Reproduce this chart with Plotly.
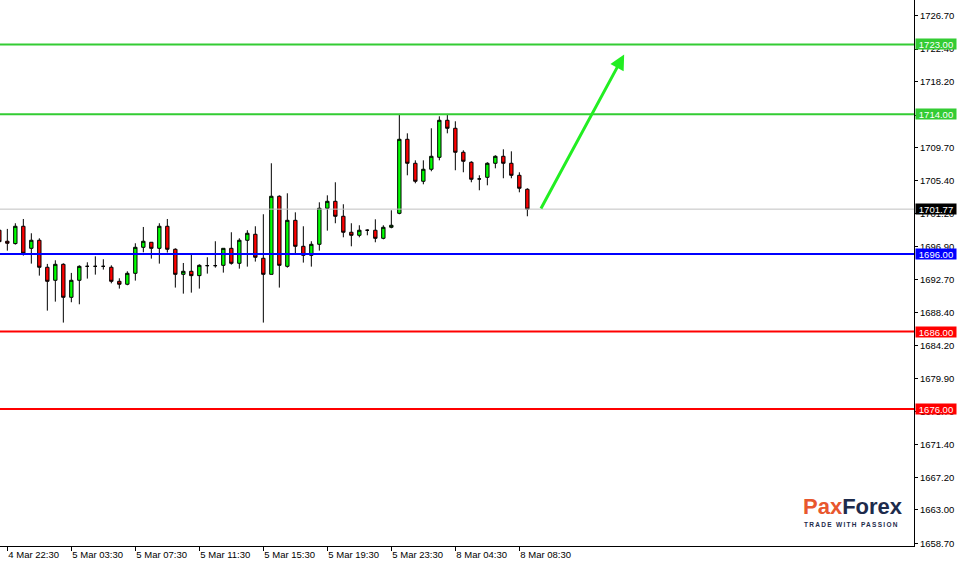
import plotly.graph_objects as go

# ---- data (XAU/USD-style 30-min candles) ----
open_ = [1699.05, 1697.63, 1697.33, 1699.56, 1696.72, 1697.76, 1694.28, 1692.60, 1694.66, 1690.41,
         1692.60, 1694.40, 1694.40, 1694.40, 1694.28, 1692.47, 1692.09, 1693.50, 1696.85, 1697.50,
         1696.72, 1699.56, 1696.60, 1693.37, 1693.76, 1693.20, 1694.49, 1694.49, 1694.53, 1696.72,
         1694.79, 1697.76, 1698.53, 1695.44, 1693.37, 1703.43, 1694.40, 1700.33, 1696.98, 1695.82,
         1697.24, 1701.88, 1702.78, 1700.85, 1698.79, 1698.40, 1699.05, 1699.05, 1698.01, 1699.43,
         1701.23, 1710.77, 1707.68, 1705.36, 1706.91, 1708.45, 1713.22, 1712.19, 1709.10, 1707.81,
         1705.66, 1705.87, 1707.68, 1708.58, 1707.68, 1706.13, 1704.33]
high = [1699.40, 1699.22, 1699.95, 1700.50, 1698.66, 1698.01, 1694.71, 1695.18, 1694.79, 1693.55,
        1694.53, 1694.92, 1695.69, 1695.31, 1694.53, 1692.86, 1693.76, 1697.37, 1699.47, 1697.50,
        1699.95, 1700.50, 1696.72, 1694.83, 1695.99, 1694.66, 1695.57, 1697.63, 1696.72, 1698.79,
        1698.01, 1699.05, 1699.56, 1701.11, 1707.68, 1703.55, 1703.81, 1701.36, 1699.56, 1697.63,
        1702.65, 1703.55, 1705.23, 1702.40, 1699.95, 1699.69, 1699.17, 1700.46, 1699.69, 1701.62,
        1714.04, 1711.54, 1708.06, 1708.06, 1712.19, 1713.73, 1714.04, 1713.09, 1709.35, 1707.94,
        1706.13, 1707.81, 1708.71, 1709.48, 1709.22, 1706.52, 1704.46]
low = [1697.20, 1696.42, 1697.20, 1695.78, 1694.75, 1693.20, 1688.69, 1689.85, 1687.15, 1689.77,
       1689.51, 1692.82, 1693.33, 1693.98, 1692.21, 1691.53, 1691.96, 1692.56, 1696.21, 1695.39,
       1694.75, 1696.17, 1691.66, 1690.88, 1691.01, 1691.53, 1693.46, 1694.23, 1693.59, 1694.62,
       1694.10, 1694.36, 1695.01, 1687.15, 1693.37, 1691.66, 1694.23, 1695.95, 1694.88, 1694.36,
       1696.42, 1699.00, 1699.95, 1698.14, 1696.98, 1698.14, 1698.40, 1697.50, 1697.88, 1699.30,
       1701.11, 1706.13, 1705.10, 1704.97, 1706.65, 1708.06, 1711.54, 1706.78, 1706.52, 1705.23,
       1704.20, 1704.84, 1707.03, 1705.75, 1705.75, 1703.94, 1700.85]
close = [1697.58, 1697.37, 1699.56, 1696.08, 1697.76, 1694.28, 1692.47, 1694.66, 1690.41, 1692.60,
         1694.40, 1694.40, 1694.40, 1694.40, 1692.47, 1692.09, 1693.50, 1696.85, 1697.63, 1696.72,
         1699.56, 1696.60, 1693.37, 1693.76, 1693.20, 1694.53, 1694.49, 1694.49, 1696.72, 1694.79,
         1697.76, 1698.66, 1695.57, 1693.37, 1703.43, 1694.53, 1700.33, 1696.98, 1695.82, 1697.24,
         1701.88, 1702.78, 1700.85, 1698.79, 1698.40, 1699.05, 1699.05, 1698.01, 1699.43, 1699.69,
         1710.77, 1707.68, 1705.36, 1706.91, 1708.58, 1713.22, 1712.19, 1709.10, 1707.94, 1705.62,
         1705.66, 1707.68, 1708.58, 1707.68, 1706.13, 1704.46, 1701.77]

x_tick_index = [1, 9, 17, 25, 33, 41, 49, 57, 65]
x_tick_labels = ["4 Mar 22:30", "5 Mar 03:30", "5 Mar 07:30", "5 Mar 11:30", "5 Mar 15:30",
                 "5 Mar 19:30", "5 Mar 23:30", "8 Mar 04:30", "8 Mar 08:30"]

y_tick_values = [1726.70, 1722.40, 1718.20, 1713.90, 1709.70, 1705.40, 1701.20, 1696.90, 1692.70,
                 1688.40, 1684.20, 1679.90, 1675.70, 1671.40, 1667.20, 1663.00, 1658.70]

resistance_levels = [1723.00, 1714.00]
pivot_levels = [1696.00]
support_levels = [1686.00, 1676.00]
last_price = 1701.77

arrow_start = (67.6, 1701.66)
arrow_end = (78.1, 1721.7)

# ---- figure ----
idx = list(range(len(open_)))
fig = go.Figure()
fig.add_trace(go.Candlestick(
    x=idx, open=open_, high=high, low=low, close=close,
    increasing=dict(line=dict(color="black", width=1), fillcolor="#00ff00"),
    decreasing=dict(line=dict(color="black", width=1), fillcolor="#ff0000"),
    whiskerwidth=0, showlegend=False, hoverinfo="skip",
))

FONT = "Liberation Sans, Arial, sans-serif"
shapes = []
annots = []

def level(val, color, width, textcolor="white"):
    shapes.append(dict(type="line", xref="paper", x0=0, x1=1, yref="y", y0=val, y1=val,
                       line=dict(color=color, width=width), layer="above"))
    annots.append(dict(xref="paper", x=1, xanchor="left", xshift=1, yref="y", y=val,
                       yanchor="middle", text=f"{val:.2f}", showarrow=False,
                       font=dict(family=FONT, size=9.5, color=textcolor),
                       bgcolor=color, width=40, height=10, borderpad=0))

level(last_price, "#c0c0c0", 1)
annots[-1]["bgcolor"] = "black"
for v in resistance_levels:
    level(v, "#33cc33", 2)
for v in pivot_levels:
    level(v, "#0000ff", 2)
for v in support_levels:
    level(v, "#ff0000", 2)

# arrow
annots.append(dict(x=arrow_end[0], y=arrow_end[1], xref="x", yref="y",
                   ax=arrow_start[0], ay=arrow_start[1], axref="x", ayref="y",
                   text="", showarrow=True, arrowhead=2, arrowsize=1.0, arrowwidth=3,
                   arrowcolor="#22ee22"))

# logo
annots.append(dict(xref="paper", yref="paper", x=0.876, y=0.045, xanchor="left", yanchor="bottom",
                   text="<b><span style='color:#e8572e'>Pax</span><span style='color:#1d2b4c'>Forex</span></b>",
                   showarrow=False, font=dict(family=FONT, size=22)))
annots.append(dict(xref="paper", yref="paper", x=0.877, y=0.030, xanchor="left", yanchor="bottom",
                   text="<b><span style='letter-spacing:1.3px'>TRADE WITH PASSION</span></b>",
                   showarrow=False, font=dict(family=FONT, size=6.5, color="#1d2b4c")))

fig.update_layout(
    width=959, height=563,
    margin=dict(l=0, r=45, t=0, b=17),
    paper_bgcolor="white", plot_bgcolor="white",
    boxgap=0.4,
    shapes=shapes, annotations=annots,
    xaxis=dict(range=[0.084, 114.33], rangeslider=dict(visible=False), showgrid=False,
               zeroline=False, showline=True, linecolor="black", linewidth=1,
               tickmode="array", tickvals=x_tick_index, ticktext=x_tick_labels,
               ticks="outside", ticklen=4, tickcolor="black",
               ticklabelposition="outside right", automargin=False,
               tickfont=dict(family=FONT, size=9.5, color="black")),
    yaxis=dict(side="right", range=[1658.36, 1728.72], showgrid=False, zeroline=False,
               showline=True, linecolor="black", linewidth=1, automargin=False,
               tickmode="array", tickvals=y_tick_values,
               ticktext=[f"{v:.2f}" for v in y_tick_values],
               ticks="outside", ticklen=3, tickcolor="black",
               tickfont=dict(family=FONT, size=9.5, color="black")),
)

fig.write_html("out.html", config={"displayModeBar": False},
               post_script="document.body.style.margin='0';document.body.style.padding='0';")
